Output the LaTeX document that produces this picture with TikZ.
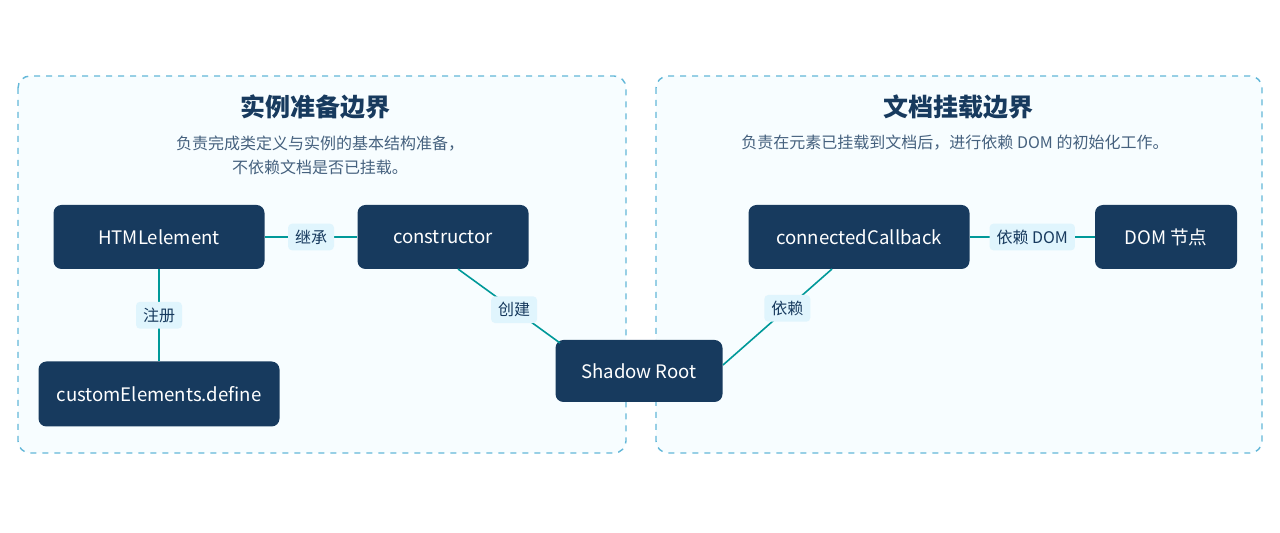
\documentclass[tikz,border=0pt]{standalone}
\usepackage{fontspec}
\setmainfont{Noto Sans CJK SC}
\begin{document}
\begin{tikzpicture}[x=0.5pt,y=-0.5pt,
  panel/.style={draw=cyan!60!teal!70, dashed, line width=0.7pt, fill=cyan!3, rounded corners=6pt},
  box/.style={fill=navy, rounded corners=4pt, text=white, font=\fontsize{9.3}{11}\selectfont},
  tag/.style={fill=cyan!12, rounded corners=2pt, text=navy, font=\fontsize{8}{9}\selectfont, inner xsep=3.5pt, inner ysep=3pt},
  link/.style={draw=teal!80!cyan, line width=0.8pt}]
\definecolor{navy}{HTML}{173A5E}
\useasboundingbox (0,0) rectangle (1280,533);
% panels
\draw[panel] (18,76) rectangle (626,453);
\draw[panel] (656,76) rectangle (1262,453);
\node[font=\bfseries\fontsize{12.5}{14}\selectfont, text=navy] at (315,107) {实例准备边界};
\node[font=\fontsize{8}{12}\selectfont, text=navy!80, align=center] at (320,155) {负责完成类定义与实例的基本结构准备，\\不依赖文档是否已挂载。};
\node[font=\bfseries\fontsize{12.5}{14}\selectfont, text=navy] at (958,107) {文档挂载边界};
\node[font=\fontsize{8}{12}\selectfont, text=navy!80] at (955,143) {负责在元素已挂载到文档后，进行依赖 DOM 的初始化工作。};
% nodes
\node[box, minimum width=105.5pt, minimum height=32pt] (html) at (159,237) {HTMLelement};
\node[box, minimum width=85.5pt, minimum height=32pt] (ctor) at (443,237) {constructor};
\node[box, minimum width=120.5pt, minimum height=32.5pt] (define) at (159,394) {customElements.define};
\node[box, minimum width=83.5pt, minimum height=31pt] (shadow) at (639,371) {Shadow Root};
\node[box, minimum width=110.5pt, minimum height=32pt] (cb) at (859,237) {connectedCallback};
\node[box, minimum width=71pt, minimum height=32pt] (dom) at (1166,237) {DOM 节点};
% links
\draw[link] (html) -- node[tag] {继承} (ctor);
\draw[link] (html) -- node[tag] {注册} (define);
\draw[link] (cb) -- node[tag] {依赖 DOM} (dom);
\coordinate (c1) at (458,269);
\coordinate (s1) at (560,343);
\coordinate (s2) at (723,365);
\coordinate (c2) at (832,269);
\draw[link] (c1) -- node[tag, pos=0.55] {创建} (s1);
\draw[link] (s2) -- node[tag, pos=0.59] {依赖} (c2);
\end{tikzpicture}
\end{document}
